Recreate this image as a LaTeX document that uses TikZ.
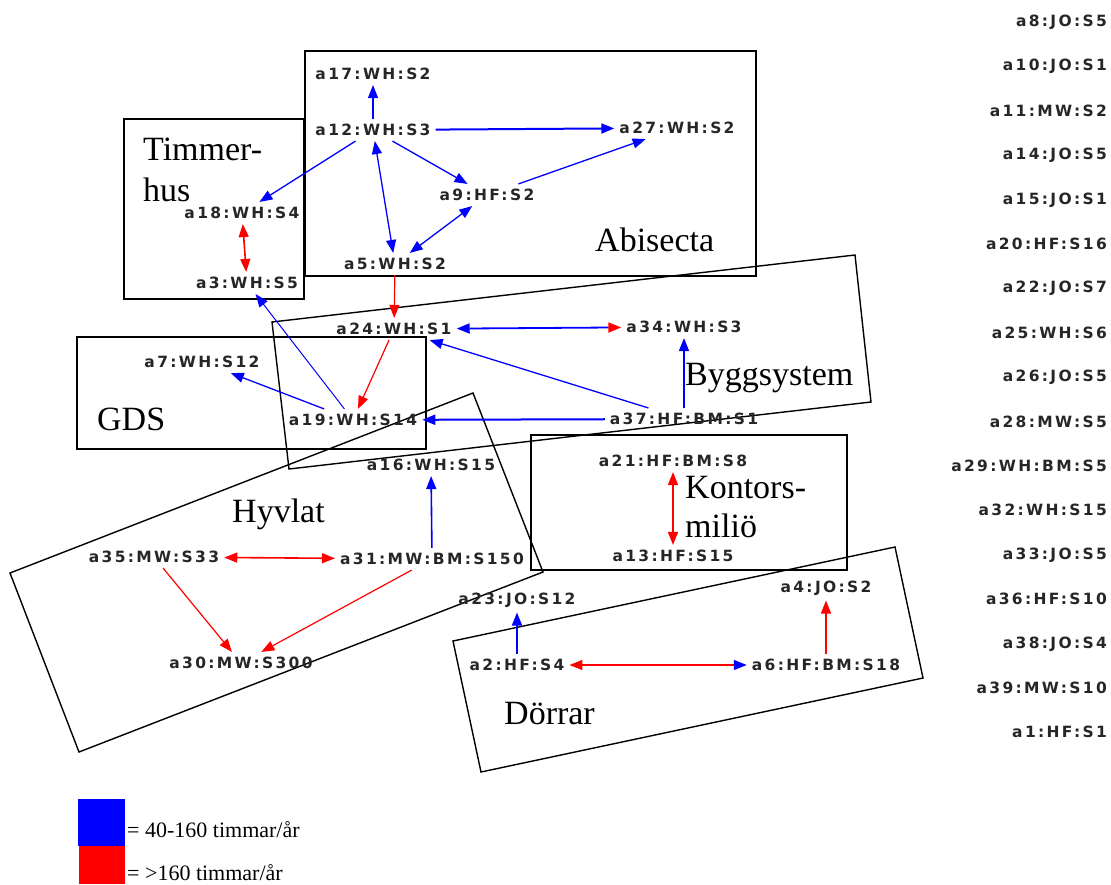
\documentclass[tikz,border=0pt]{standalone}
\usepackage{fontspec}
\setmainfont{Liberation Serif}
\newfontfamily\actfont[LetterSpace=15]{DejaVu Sans Bold}
\usepackage{tikz}
\usetikzlibrary{arrows.meta}
\definecolor{lowc}{HTML}{0000FF}
\definecolor{highc}{HTML}{FF0000}
\tikzset{
  >={Triangle[length=13pt,width=10pt]},
  act/.style={font=\actfont\fontsize{15.5}{15.5}\selectfont, text=black!85, inner xsep=5pt, inner ysep=5pt},
  rest/.style={act, anchor=east, inner sep=0pt},
  grp/.style={line width=1.8pt},
  grpr/.style={line width=1.4pt},
  glab/.style={font=\fontsize{34}{34}\selectfont, anchor=base west, inner sep=0pt},
  leg/.style={font=\fontsize{22}{22}\selectfont, anchor=base west, inner sep=0pt},
  lowarr/.style={draw=lowc, line width=1.3pt, ->},
  higharr/.style={draw=highc, line width=1.2pt, ->},
}

\begin{document}
\begin{tikzpicture}[x=1pt, y=-1pt]
  \useasboundingbox (0,0) rectangle (1111,884);

  % groups
  \draw[grp] (305,51) rectangle (756,276);   % Abisecta
  \draw[grp] (124,119) rectangle (304,299);  % Timmerhus
  \draw[grp] (77,337) rectangle (426,449);   % GDS
  \draw[grp] (531,435) rectangle (847,570);  % Kontorsmiliö
  \draw[grpr] (272,322) -- (855,255) -- (871,402) -- (289,469) -- cycle; % Byggsystem
  \draw[grpr] (10,573) -- (473,393) -- (543,572) -- (79,752) -- cycle;   % Hyvlat
  \draw[grpr] (453,641) -- (895,547) -- (923,678) -- (481,772) -- cycle; % Dörrar

  \node[glab] (abisecta) at (595,251) {Abisecta};
  \node[glab] (timmer) at (143,160) {Timmer-};
  \node[glab] (hus) at (143,201) {hus};
  \node[glab] (bygg) at (685,385) {Byggsystem};
  \node[glab] (gds) at (97,430) {GDS};
  \node[glab] (hyvlat) at (232,522) {Hyvlat};
  \node[glab] (kontors) at (685,498) {Kontors-};
  \node[glab] (milio) at (685,537) {miliö};
  \node[glab] (dorrar) at (504,724) {Dörrar};

  % actors
  \node[act] (a17) at (373,74)  {a17:WH:S2};
  \node[act] (a12) at (373,130) {a12:WH:S3};
  \node[act] (a27) at (677,128) {a27:WH:S2};
  \node[act] (a9)  at (487,195) {a9:HF:S2};
  \node[act] (a18) at (242,213) {a18:WH:S4};
  \node[act] (a3)  at (247,283) {a3:WH:S5};
  \node[act] (a5)  at (395,264) {a5:WH:S2};
  \node[act] (a24) at (394,329) {a24:WH:S1};
  \node[act] (a34) at (684,327) {a34:WH:S3};
  \node[act] (a7)  at (202,362) {a7:WH:S12};
  \node[act] (a19) at (353,420) {a19:WH:S14};
  \node[act] (a37) at (684,419) {a37:HF:BM:S1};
  \node[act] (a16) at (431,465) {a16:WH:S15};
  \node[act] (a21) at (673,461) {a21:HF:BM:S8};
  \node[act] (a13) at (673,556) {a13:HF:S15};
  \node[act] (a35) at (154,557) {a35:MW:S33};
  \node[act] (a31) at (432,559) {a31:MW:BM:S150};
  \node[act] (a30) at (241,663) {a30:MW:S300};
  \node[act] (a23) at (517,600) {a23:JO:S12};
  \node[act] (a4)  at (826,588) {a4:JO:S2};
  \node[act] (a2)  at (517,665) {a2:HF:S4};
  \node[act] (a6)  at (826,665) {a6:HF:BM:S18};

  % actors without links
  \node[rest] (a8)  at (1107,22)  {a8:JO:S5};
  \node[rest] (a10) at (1107,66)  {a10:JO:S1};
  \node[rest] (a11) at (1107,111) {a11:MW:S2};
  \node[rest] (a14) at (1107,155) {a14:JO:S5};
  \node[rest] (a15) at (1107,200) {a15:JO:S1};
  \node[rest] (a20) at (1107,244) {a20:HF:S16};
  \node[rest] (a22) at (1107,288) {a22:JO:S7};
  \node[rest] (a25) at (1107,333) {a25:WH:S6};
  \node[rest] (a26) at (1107,377) {a26:JO:S5};
  \node[rest] (a28) at (1107,422) {a28:MW:S5};
  \node[rest] (a29) at (1107,466) {a29:WH:BM:S5};
  \node[rest] (a32) at (1107,510) {a32:WH:S15};
  \node[rest] (a33) at (1107,555) {a33:JO:S5};
  \node[rest] (a36) at (1107,599) {a36:HF:S10};
  \node[rest] (a38) at (1107,644) {a38:JO:S4};
  \node[rest] (a39) at (1107,688) {a39:MW:S10};
  \node[rest] (a1)  at (1107,732) {a1:HF:S1};

  % 40-160 h
  \draw[lowarr] (a12) -- (a17);
  \draw[lowarr, line width=2pt] (a12) -- (a27);
  \draw[lowarr] (a12) -- (a18);
  \draw[lowarr] (a12) -- (a9);
  \draw[lowarr] (a9) -- (a27);
  \draw[lowarr, <->] (a12) -- (a5);
  \draw[lowarr, <->] (a9) -- (a5);
  \draw[lowarr, line width=1.8pt, {Triangle[length=13pt,width=10pt,color=lowc]}-{Triangle[length=13pt,width=10pt,color=highc]}] (a24) -- (a34);
  \draw[lowarr] (a37) -- (a24);
  \draw[lowarr, line width=2pt] (a37) -- (a19);
  \draw[lowarr, line width=1.6pt] (a37) -- (a34);
  \draw[lowarr] (a19) -- (a7);
  \draw[lowarr, line width=1pt] (a19) -- (a3);
  \draw[lowarr, line width=1.6pt] (a31) -- (a16);
  \draw[lowarr, line width=1.6pt] (a2) -- (a23);

  % over 160 h
  \draw[higharr, <->, line width=1.6pt] (a18) -- (a3);
  \draw[higharr] (a5) -- (a24);
  \draw[higharr] (a24) -- (a19);
  \draw[higharr, <->, line width=1.6pt] (a35) -- (a31);
  \draw[higharr] (a35) -- (a30);
  \draw[higharr] (a31) -- (a30);
  \draw[higharr, <->, line width=1.6pt] (a21) -- (a13);
  \draw[higharr, line width=1.6pt] (a6) -- (a4);
  \draw[higharr, line width=1.6pt, {Triangle[length=13pt,width=10pt,color=highc]}-{Triangle[length=13pt,width=10pt,color=lowc]}] (a2) -- (a6);

  % legend
  \fill[lowc] (78,799) rectangle (125,846);
  \fill[highc] (79,846) rectangle (125,884);
  \node[leg] (leglow) at (127,837) {= 40-160 timmar/år};
  \node[leg] (leghigh) at (127,880) {= >160 timmar/år};
\end{tikzpicture}
\end{document}
